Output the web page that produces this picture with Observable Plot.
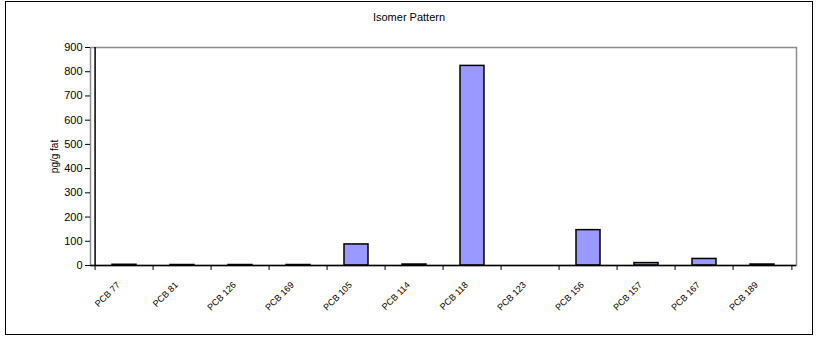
<!DOCTYPE html>
<html>
<head>
<meta charset="utf-8">
<script src="https://cdn.jsdelivr.net/npm/d3@7"></script>
<script src="https://cdn.jsdelivr.net/npm/@observablehq/plot@0.6"></script>
<style>
  html, body { margin: 0; padding: 0; background: #fff; }
  #wrap { position: relative; width: 816px; height: 338px; font-family: "Liberation Sans", Arial, sans-serif; }
  #border { position: absolute; left: 5px; top: 1px; width: 808px; height: 334px; box-sizing: border-box; border: 1.5px solid #000; pointer-events: none; }
  #title { position: absolute; left: 5px; width: 808px; top: 11px; text-align: center; font-size: 11px; color: #000; }
  #plot { position: absolute; left: 0; top: 0; }
</style>
</head>
<body>
<div id="wrap">
  <div id="plot"></div>
  <div id="title">Isomer Pattern</div>
  <div id="border"></div>
</div>
<script>
// PCB congeners and their concentrations (pg/g fat)
const congeners = ["PCB 77", "PCB 81", "PCB 126", "PCB 169", "PCB 105", "PCB 114",
                   "PCB 118", "PCB 123", "PCB 156", "PCB 157", "PCB 167", "PCB 189"];
const concentrations = [3, 2, 2, 2, 87, 4, 824, 0, 146, 10, 27, 4];
const yTicks = [0, 100, 200, 300, 400, 500, 600, 700, 800, 900];

const data = congeners.map((name, i) => ({name, value: concentrations[i]}));

const W = 816, H = 338;
const mL = 90, mR = 20, mT = 47, mB = 73;
const bw = (W - mL - mR) / congeners.length;
const frameH = H - mT - mB;
const lastCat = congeners[congeners.length - 1];

const chart = Plot.plot({
  width: W,
  height: H,
  marginLeft: mL,
  marginRight: mR,
  marginTop: mT,
  marginBottom: mB,
  style: {fontFamily: "'Liberation Sans', Arial, sans-serif", color: "#000", background: "transparent"},
  x: {domain: congeners, padding: 0, label: null, axis: null},
  y: {domain: [0, 900], label: null},
  marks: [
    // plot area border (grey)
    Plot.frame({stroke: "#8c8c8c", strokeWidth: 1.5}),
    Plot.barY(data, {
      x: "name", y: "value",
      fill: "#9999ff", stroke: "#000", strokeWidth: 1.5,
      insetLeft: 17, insetRight: 17
    }),
    // category boundary tick marks below the axis
    Plot.ruleX(congeners, {x: d => d, dx: -bw / 2, insetTop: frameH, insetBottom: -5, stroke: "#000"}),
    Plot.ruleX([lastCat], {x: d => d, dx: bw / 2, insetTop: frameH, insetBottom: -5, stroke: "#000"}),
    // left axis line
    Plot.ruleX([congeners[0]], {x: d => d, dx: -bw / 2, stroke: "#000", strokeWidth: 1.5}),
    // baseline
    Plot.ruleY([0], {stroke: "#000", strokeWidth: 1.5}),
    Plot.axisY({ticks: yTicks, tickSize: 5, tickPadding: 3, fontSize: 11, label: null}),
    // slanted category labels
    Plot.text(congeners, {
      x: d => d, frameAnchor: "bottom", rotate: -45, textAnchor: "end",
      lineAnchor: "middle", dx: -6, dy: 18, fontSize: 9, fill: "#000"
    }),
    Plot.text(["pg/g fat"], {frameAnchor: "left", textAnchor: "middle", dx: -36, rotate: -90, fontSize: 10, fill: "#000"})
  ]
});

document.getElementById("plot").appendChild(chart);
</script>
</body>
</html>
